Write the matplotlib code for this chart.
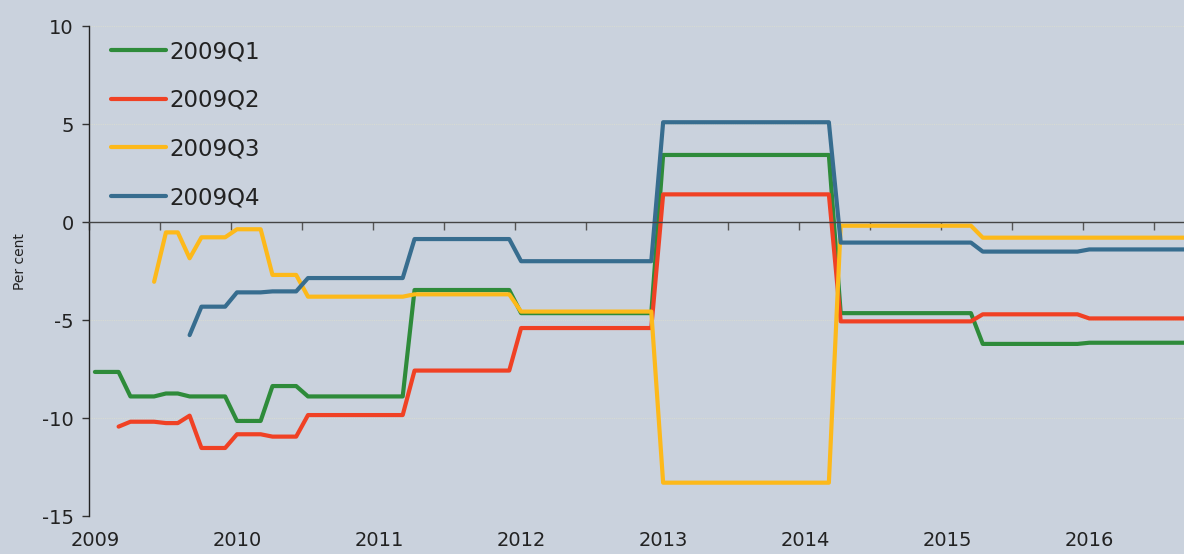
import numpy as np
import matplotlib
matplotlib.use("Agg")
import matplotlib.pyplot as plt
import matplotlib.transforms as mtransforms

# Monthly data, starting Jan 2009, through Sep 2016
series_names = ["2009Q1", "2009Q2", "2009Q3", "2009Q4"]
colors = ["#2e8b3a", "#f04124", "#fdb91a", "#376d8f"]

def seg(*pairs):
    out = []
    for val, n in pairs:
        out += [val] * n
    return out

# Q1: starts Jan 2009
q1_start = 0
q1 = seg((-7.65, 3), (-8.9, 3), (-8.75, 2), (-8.9, 4), (-10.15, 3), (-8.37, 3),
         (-8.9, 9), (-3.47, 9), (-4.65, 12), (3.42, 15), (-4.65, 12), (-6.22, 9), (-6.16, 9))
# Q2: starts Mar 2009
q2_start = 2
q2 = seg((-10.44, 1), (-10.19, 3), (-10.26, 2), (-9.88, 1), (-11.53, 3), (-10.83, 3),
         (-10.95, 3), (-9.85, 9), (-7.58, 9), (-5.41, 12), (1.41, 15), (-5.07, 12),
         (-4.71, 9), (-4.92, 9))
# Q3: starts Jun 2009
q3_start = 5
q3 = seg((-3.05, 1), (-0.53, 2), (-1.85, 1), (-0.78, 3), (-0.37, 3), (-2.70, 3),
         (-3.81, 9), (-3.69, 9), (-4.57, 12), (-13.3, 15), (-0.19, 12), (-0.8, 18))
# Q4: starts Sep 2009
q4_start = 8
q4 = seg((-5.77, 1), (-4.32, 3), (-3.59, 3), (-3.54, 3), (-2.86, 9), (-0.87, 9),
         (-2.0, 12), (5.09, 15), (-1.05, 12), (-1.51, 9), (-1.4, 9))

data = [(q1_start, q1), (q2_start, q2), (q3_start, q3), (q4_start, q4)]

y_ticks = [-15, -10, -5, 0, 5, 10]
year_labels = ["2009", "2010", "2011", "2012", "2013", "2014", "2015", "2016"]

bg = "#cad2dd"
fig = plt.figure(figsize=(11.84, 5.54), dpi=100, facecolor=bg)
ax = fig.add_axes([89 / 1184, 1 - 516 / 554, 1 - 89 / 1184, (516 - 26) / 554])
ax.set_facecolor(bg)

for name, color, (start, vals) in zip(series_names, colors, data):
    idx = np.arange(start, start + len(vals))
    x = 2009 + (idx + 0.5) / 12.0
    ax.plot(x, vals, color=color, lw=3.0, label=name,
            solid_joinstyle="round", solid_capstyle="round")

ax.set_xlim(2009, 2016 + 8.5 / 12)
ax.set_ylim(-15, 10)

# gridlines
for yv in y_ticks:
    if yv != 0:
        ax.axhline(yv, color="#d8dbd2", lw=0.8, ls=(0, (1, 1)), zorder=0)

ax.set_yticks(y_ticks)
ax.set_yticklabels([str(v) for v in y_ticks], fontsize=14, color="#222222")
ax.tick_params(axis="y", direction="out", length=5, width=1, color="#333333", pad=6)

for s in ["top", "right"]:
    ax.spines[s].set_visible(False)
ax.spines["left"].set_color("#222222")
ax.spines["left"].set_linewidth(1.0)
ax.spines["bottom"].set_position(("data", 0))
ax.spines["bottom"].set_color("#444444")
ax.spines["bottom"].set_linewidth(1.0)

ax.set_xticks(np.arange(2009, 2017, 0.5))
ax.set_xticklabels([])
ax.tick_params(axis="x", direction="out", length=6, width=1, color="#555555")

trans = mtransforms.blended_transform_factory(ax.transData, ax.transAxes)
for lbl in year_labels:
    ax.text(int(lbl) + 0.5 / 12, -0.03, lbl, transform=trans, ha="center", va="top",
            fontsize=14, color="#222222")

ax.set_ylabel("Per cent", fontsize=10, color="#222222")
ax.yaxis.set_label_coords(-0.057, 0.52)

leg = ax.legend(loc="upper left", frameon=False, fontsize=16.5, handlelength=2.4,
                handletextpad=0.15, labelspacing=1.12,
                bbox_to_anchor=(13 / 1095, 1.0 - 5 / 490), borderaxespad=0.0)
for t in leg.get_texts():
    t.set_color("#222222")

fig.savefig("out.png", dpi=100, facecolor=bg)
